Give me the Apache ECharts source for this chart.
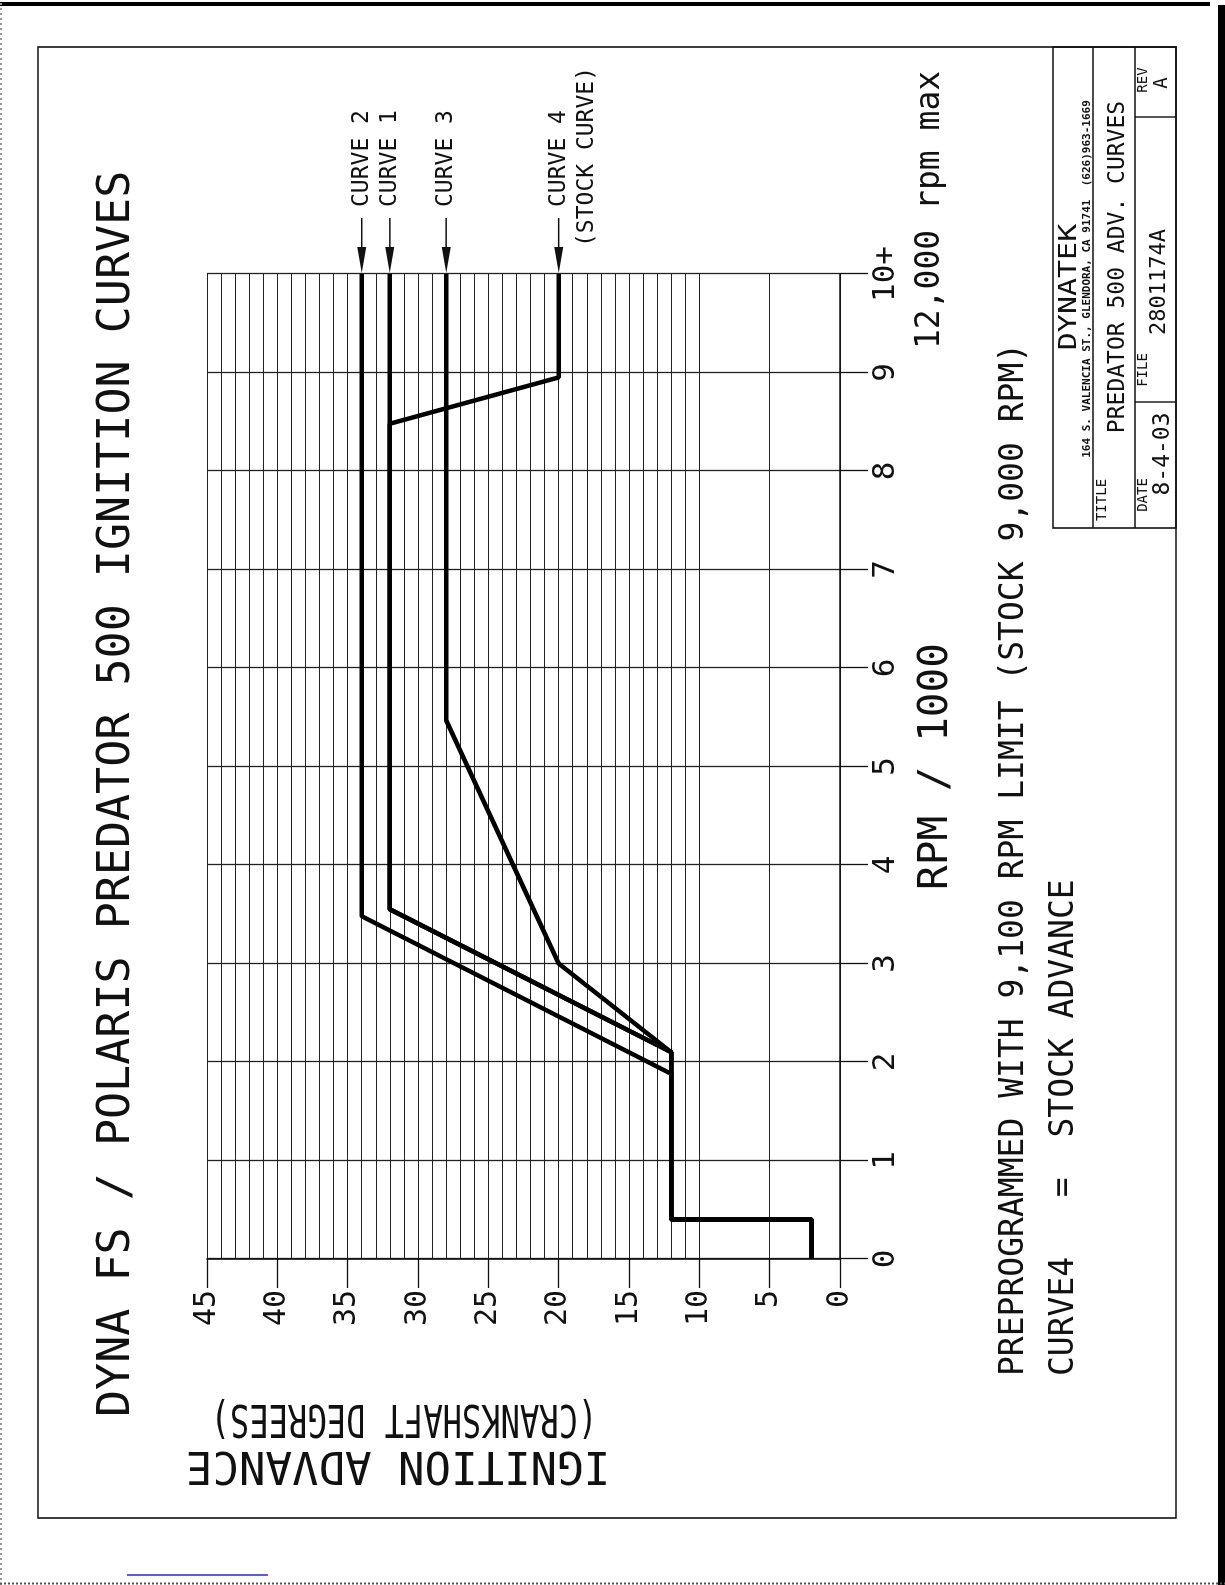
<!DOCTYPE html>
<html lang="en">
<head>
<meta charset="UTF-8">
<title>DYNA FS / POLARIS PREDATOR 500 IGNITION CURVES</title>
<script src="https://cdn.jsdelivr.net/npm/echarts@6.0.0/dist/echarts.min.js"></script>
<style>
  html, body { margin: 0; padding: 0; background: #fff; overflow: hidden; }
  body { width: 1225px; height: 1585px; position: relative; }
  /* the sheet is drawn landscape and was scanned turned on its side */
  #main { position: absolute; left: 0; top: 0; width: 1585px; height: 1225px;
          transform-origin: 0 0; transform: translate(0, 1585px) rotate(-90deg); }
</style>
</head>
<body>
<div id="main"></div>
<script>
  // [rpm / 1000, ignition advance in crankshaft degrees]
  var curve1 = [[0, 2], [0.4, 2], [0.4, 12], [2.1, 12], [3.55, 32], [10, 32]];
  var curve2 = [[0, 2], [0.4, 2], [0.4, 12], [1.88, 12], [3.48, 34], [10, 34]];
  var curve3 = [[0, 2], [0.4, 2], [0.4, 12], [2.1, 12], [3.0, 20], [5.47, 28], [10, 28]];
  var curve4 = [[0, 2], [0.4, 2], [0.4, 12], [2.1, 12], [3.55, 32], [8.48, 32], [8.95, 20], [10, 20]];
  var curveNames = ['CURVE 1', 'CURVE 2', 'CURVE 3', 'CURVE 4'];
  var rpmTicks = ['0', '1', '2', '3', '4', '5', '6', '7', '8', '9', '10+'];

  var mono = '"DejaVu Sans Mono", "Liberation Mono", monospace';
  var ink = '#111';

  var myChart = echarts.init(document.getElementById('main'));

  // 1 degree grid lines above 10, only every 5 below
  var degLineColors = [];
  for (var d = 0; d <= 45; d++) {
    degLineColors.push(d >= 10 || d % 5 === 0 ? '#222' : 'rgba(0,0,0,0)');
  }

  var curves = [curve1, curve2, curve3, curve4];

  myChart.setOption({
    animation: false,
    backgroundColor: '#fff',
    grid: { left: 326, top: 207, width: 985, height: 633 },
    xAxis: {
      type: 'value', min: 0, max: 10, interval: 1,
      name: 'RPM / 1000', nameLocation: 'middle', nameGap: 76,
      nameTextStyle: { fontFamily: mono, fontSize: 41, color: ink },
      axisLine: { show: true, lineStyle: { color: ink, width: 1.6 } },
      axisTick: { show: true, length: 28, lineStyle: { color: ink, width: 1.3 } },
      splitLine: { show: true, lineStyle: { color: '#222', width: 1.3 } },
      axisLabel: {
        fontFamily: mono, fontSize: 31, color: ink, margin: 30,
        formatter: function (v) { return rpmTicks[Math.round(v)]; }
      }
    },
    yAxis: [{
      // grid lines only
      type: 'value', min: 0, max: 45, interval: 1,
      axisLine: { show: false }, axisTick: { show: false }, axisLabel: { show: false },
      splitLine: { show: true, lineStyle: { color: degLineColors, width: 1.2 } }
    }, {
      type: 'value', min: 0, max: 45, interval: 5, position: 'left',
      axisLine: { show: true, onZero: false, lineStyle: { color: ink, width: 1.6 } },
      axisTick: { show: true, length: 29, lineStyle: { color: ink, width: 1.3 } },
      splitLine: { show: false },
      axisLabel: { fontFamily: mono, fontSize: 30, color: ink, margin: 31 }
    }],
    series: curves.map(function (c, i) {
      return {
        name: curveNames[i], type: 'line', data: c, yAxisIndex: 0,
        symbol: 'none', silent: true, z: 5,
        lineStyle: { color: '#000', width: 4.5 }
      };
    })
  });

  function txt(str, x, y, size, opt) {
    opt = opt || {};
    var align = opt.align || 'left';
    return {
      type: 'text', x: x, y: y, rotation: opt.rot || 0, scaleX: opt.sx || 1, silent: true,
      style: {
        text: str, fill: ink, fontSize: size, fontFamily: mono,
        fontWeight: opt.bold ? 'bold' : 'normal',
        align: align, verticalAlign: 'middle', textAlign: align, textVerticalAlign: 'middle'
      }
    };
  }
  function line(x1, y1, x2, y2, w, color, dash) {
    return {
      type: 'line', silent: true, shape: { x1: x1, y1: y1, x2: x2, y2: y2 },
      style: { stroke: color || ink, lineWidth: w || 1.5, lineDash: dash || null }
    };
  }

  var g = [];

  // sheet border and scan edges
  g.push({ type: 'rect', silent: true, shape: { x: 67, y: 38, width: 1471, height: 1138 },
           style: { fill: 'none', stroke: ink, lineWidth: 1.6 } });
  g.push(line(1581, 0, 1581, 1210, 4, '#000'));
  g.push({ type: 'rect', silent: true, shape: { x: 0, y: 1218, width: 1580, height: 7 },
           style: { fill: '#000' } });
  g.push(line(0, 1, 1585, 1, 2, '#999', [2, 3]));
  g.push(line(1.5, 0, 1.5, 1225, 2, '#555', [2, 2]));
  g.push(line(10, 127, 10, 268, 1.5, '#2424d8'));

  // titles
  g.push(txt('DYNA FS / POLARIS PREDATOR 500 IGNITION CURVES', 168, 117, 45));
  g.push(txt('IGNITION ADVANCE', 122, 398, 44, { align: 'center', rot: Math.PI / 2 }));
  g.push(txt('(CRANKSHAFT DEGREES)', 169, 404, 44, { align: 'center', rot: Math.PI / 2, sx: 0.73 }));
  g.push(txt('12,000 rpm max', 1236, 930, 33));
  g.push(txt('PREPROGRAMMED WITH 9,100 RPM LIMIT (STOCK 9,000 RPM)', 209, 1014, 33));
  g.push(txt('CURVE4   =  STOCK ADVANCE', 209, 1064, 33));

  // curve call-outs at the 10+ end
  curves.forEach(function (c, i) {
    var last = c[c.length - 1];
    var p = myChart.convertToPixel({ xAxisIndex: 0, yAxisIndex: 0 }, last);
    g.push(line(p[0] + 26, p[1], p[0] + 56, p[1], 1.5));
    g.push({ type: 'polygon', silent: true,
             shape: { points: [[p[0] + 1, p[1]], [p[0] + 27, p[1] - 4.5], [p[0] + 27, p[1] + 4.5]] },
             style: { fill: ink } });
    g.push(txt(curveNames[i], p[0] + 67, p[1], 23));
    if (i === 3) g.push(txt('(STOCK CURVE)', p[0] + 27, p[1] + 28, 23));
  });

  // title block
  g.push({ type: 'rect', silent: true, shape: { x: 1057, y: 1053, width: 481, height: 123 },
           style: { fill: 'none', stroke: ink, lineWidth: 1.6 } });
  g.push(line(1057, 1093, 1538, 1093, 1.4));
  g.push(line(1057, 1135, 1538, 1135, 1.4));
  g.push(line(1183, 1135, 1183, 1176, 1.4));
  g.push(line(1468, 1135, 1468, 1176, 1.4));
  g.push(txt('DYNATEK', 1298, 1070, 24, { align: 'center', sx: 1.25 }));
  g.push(txt('164 S. VALENCIA ST., GLENDORA, CA 91741  (626)963-1669', 1306, 1087, 11, { align: 'center', bold: true }));
  g.push(txt('TITLE', 1085, 1102, 14, { align: 'center' }));
  g.push(txt('PREDATOR 500 ADV. CURVES', 1318, 1118, 23, { align: 'center' }));
  g.push(txt('DATE', 1090, 1143, 14, { align: 'center' }));
  g.push(txt('8-4-03', 1131, 1163, 23, { align: 'center' }));
  g.push(txt('FILE', 1215, 1143, 14, { align: 'center' }));
  g.push(txt('2801174A', 1303, 1159, 22, { align: 'center' }));
  g.push(txt('REV', 1505, 1143, 14, { align: 'center' }));
  g.push(txt('A', 1502, 1162, 19, { align: 'center' }));

  myChart.setOption({ graphic: g });
</script>
</body>
</html>
